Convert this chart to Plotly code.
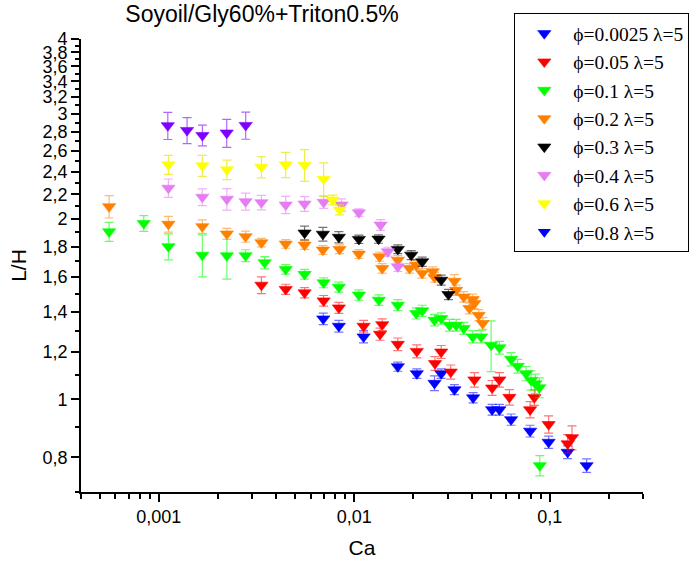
import plotly.graph_objects as go

# ---------------- data ----------------
names = ["ϕ=0.0025 λ=5", "ϕ=0.05 λ=5", "ϕ=0.1 λ=5", "ϕ=0.2 λ=5",
         "ϕ=0.3 λ=5", "ϕ=0.4 λ=5", "ϕ=0.6 λ=5", "ϕ=0.8 λ=5"]

ca_0025 = [0.00694, 0.00834, 0.01116, 0.0167, 0.02089, 0.02784, 0.02573, 0.03254,
           0.04056, 0.05073, 0.05527, 0.06344, 0.07933, 0.09872, 0.1235, 0.1544]
lh_0025 = [1.363, 1.325, 1.272, 1.134, 1.104, 1.104, 1.064, 1.038,
           1.006, 0.961, 0.961, 0.925, 0.885, 0.848, 0.816, 0.775]
er_0025 = [0.03, 0.03, 0.03, 0.02, 0.02, 0.02, 0.03, 0.02,
           0.02, 0.02, 0.02, 0.02, 0.02, 0.02, 0.02, 0.02]

ca_005 = [0.00335, 0.00446, 0.00557, 0.00697, 0.00834, 0.01116, 0.0139, 0.01355,
          0.0167, 0.02089, 0.02784, 0.02588, 0.03116, 0.04118, 0.05073, 0.05527,
          0.06217, 0.08343, 0.07933, 0.09872, 0.130, 0.1235]
lh_005 = [1.552, 1.527, 1.507, 1.461, 1.422, 1.325, 1.333, 1.285,
          1.236, 1.203, 1.200, 1.148, 1.111, 1.078, 1.045, 1.078,
          1.008, 1.007, 0.961, 0.908, 0.863, 0.843]
er_005 = [0.05, 0.03, 0.03, 0.03, 0.03, 0.03, 0.03, 0.03,
          0.03, 0.03, 0.03, 0.03, 0.03, 0.03, 0.03, 0.03,
          0.03, 0.03, 0.03, 0.03, 0.04, 0.03]

ca_01 = [0.000557, 0.000838, 0.00112, 0.00167, 0.00223, 0.00278, 0.00348, 0.00446,
         0.00557, 0.00697, 0.00834, 0.01056, 0.01336, 0.0167, 0.02074, 0.02226,
         0.02573, 0.02784, 0.03069, 0.0332, 0.03631, 0.04037, 0.04457, 0.05012,
         0.05527, 0.06344, 0.06855, 0.07566, 0.08027, 0.08443, 0.0885, 0.089]
lh_01 = [1.906, 1.968, 1.800, 1.742, 1.738, 1.738, 1.692, 1.649,
         1.618, 1.566, 1.540, 1.494, 1.465, 1.437, 1.392, 1.406,
         1.356, 1.365, 1.330, 1.330, 1.314, 1.272, 1.272, 1.232,
         1.220, 1.167, 1.136, 1.104, 1.076, 1.062, 1.046, 0.775]
er_01 = [0.07, 0.06, 0.09, 0.14, 0.15, 0.04, 0.04, 0.03,
         0.03, 0.03, 0.03, 0.03, 0.03, 0.03, 0.03, 0.03,
         0.03, 0.03, 0.03, 0.03, 0.03, 0.03, 0.03, 0.12,
         0.03, 0.03, 0.03, 0.03, 0.04, 0.04, 0.04, 0.03]

ca_02 = [0.000557, 0.00112, 0.00167, 0.00223, 0.00278, 0.00335, 0.00446, 0.00557,
         0.00691, 0.00841, 0.01056, 0.01347, 0.0139, 0.0167, 0.01917, 0.02074,
         0.02226, 0.02521, 0.02573, 0.03254, 0.0332, 0.03631, 0.04037, 0.04118,
         0.03883, 0.04331, 0.04541]
lh_02 = [2.099, 1.962, 1.944, 1.890, 1.870, 1.827, 1.818, 1.811,
         1.777, 1.781, 1.749, 1.731, 1.655, 1.709, 1.655, 1.677,
         1.624, 1.634, 1.599, 1.576, 1.522, 1.483, 1.469, 1.446,
         1.419, 1.382, 1.339]
er_02 = [0.09, 0.06, 0.05, 0.04, 0.04, 0.03, 0.03, 0.03,
         0.03, 0.03, 0.03, 0.03, 0.03, 0.03, 0.03, 0.03,
         0.03, 0.03, 0.03, 0.04, 0.03, 0.03, 0.03, 0.03,
         0.03, 0.03, 0.03]

ca_03 = [0.00557, 0.00691, 0.00834, 0.01056, 0.01331, 0.0167, 0.01956, 0.02226,
         0.02784, 0.03033]
lh_03 = [1.897, 1.888, 1.866, 1.851, 1.853, 1.781, 1.742, 1.698,
         1.582, 1.497]
er_03 = [0.05, 0.05, 0.04, 0.03, 0.03, 0.03, 0.03, 0.03,
         0.03, 0.03]

ca_04 = [0.00112, 0.00167, 0.00223, 0.00278, 0.00335, 0.00446, 0.00557, 0.00697,
         0.00861, 0.01056, 0.01363, 0.01485, 0.0167]
lh_04 = [2.254, 2.177, 2.160, 2.140, 2.132, 2.113, 2.121, 2.135,
         2.113, 2.051, 1.956, 1.765, 1.666]
er_04 = [0.08, 0.07, 0.09, 0.07, 0.06, 0.07, 0.06, 0.05,
         0.05, 0.03, 0.04, 0.03, 0.03]

ca_06 = [0.00112, 0.00167, 0.00223, 0.00335, 0.00446, 0.00557, 0.00697, 0.00775,
         0.00841]
lh_06 = [2.466, 2.457, 2.419, 2.444, 2.466, 2.463, 2.333, 2.154,
         2.073]
er_06 = [0.09, 0.10, 0.09, 0.10, 0.12, 0.15, 0.15, 0.04,
         0.04]

ca_08 = [0.001112, 0.001395, 0.001672, 0.002226, 0.002784]
lh_08 = [2.867, 2.815, 2.761, 2.787, 2.870]
er_08 = [0.15, 0.14, 0.11, 0.15, 0.15]

colors = ["#0000FF", "#FF0000", "#00FF00", "#FF8000",
          "#000000", "#E57CF2", "#FFFF00", "#8000FF"]
err_colors = ["rgba(0,0,255,0.55)", "rgba(255,0,0,0.55)", "rgba(0,255,0,0.6)",
              "rgba(255,128,0,0.55)", "rgba(0,0,0,0.55)", "rgba(229,124,242,0.6)",
              "rgba(230,230,0,0.7)", "rgba(128,0,255,0.6)"]
legend_marker_08 = "#0000FF"

xtick_vals = [0.001, 0.01, 0.1]
xtick_text = ["0,001", "0,01", "0,1"]
xminor_vals = [0.0004, 0.0005, 0.0006, 0.0007, 0.0008, 0.0009,
               0.002, 0.003, 0.004, 0.005, 0.006, 0.007, 0.008, 0.009,
               0.02, 0.03, 0.04, 0.05, 0.06, 0.07, 0.08, 0.09, 0.2, 0.3]
ytick_vals = [0.8, 1.0, 1.2, 1.4, 1.6, 1.8, 2.0, 2.2, 2.4, 2.6, 2.8,
              3.0, 3.2, 3.4, 3.6, 3.8, 4.0]
ytick_text = ["0,8", "1", "1,2", "1,4", "1,6", "1,8", "2", "2,2", "2,4",
              "2,6", "2,8", "3", "3,2", "3,4", "3,6", "3,8", "4"]
yminor_vals = [0.7, 0.9, 1.1, 1.3, 1.5, 1.7, 1.9, 2.1, 2.3, 2.5, 2.7, 2.9,
               3.1, 3.3, 3.5, 3.7, 3.9]

series = [(ca_0025, lh_0025, er_0025), (ca_005, lh_005, er_005),
          (ca_01, lh_01, er_01), (ca_02, lh_02, er_02),
          (ca_03, lh_03, er_03), (ca_04, lh_04, er_04),
          (ca_06, lh_06, er_06), (ca_08, lh_08, er_08)]

# ---------------- figure ----------------
fig = go.Figure()
for i, (xs, ys, es) in enumerate(series):
    last = (i == len(series) - 1)
    fig.add_trace(go.Scatter(
        x=xs, y=ys, mode="markers", name=names[i],
        showlegend=not last, legendgroup="g%d" % i,
        marker=dict(symbol="triangle-down", size=11.5, color=colors[i],
                    line=dict(width=0.6, color=colors[i])),
        error_y=dict(type="data", array=es, visible=True,
                     color=err_colors[i], thickness=1.2, width=4.5),
    ))
# legend entry of the last series (drawn in blue in the original legend)
fig.add_trace(go.Scatter(
    x=[None], y=[None], mode="markers", name=names[-1], legendgroup="g7",
    marker=dict(symbol="triangle-down", size=11.5, color=legend_marker_08),
))

L, R, T, B = 81, 47, 39, 73
W, H = 690, 565
pw, ph = W - L - R, H - T - B

axis_common = dict(
    showline=True, linecolor="black", linewidth=1.7, mirror=False,
    ticks="outside", ticklen=8, tickwidth=1.5, tickcolor="black",
    showgrid=False, zeroline=False,
    tickfont=dict(family="Liberation Sans, Arial", size=18, color="black"),
)

fig.update_xaxes(
    type="log", range=[-3.39794, -0.52288],
    tickmode="array", tickvals=xtick_vals, ticktext=xtick_text,
    minor=dict(tickmode="array", tickvals=xminor_vals, ticks="outside",
               ticklen=5, tickwidth=1.5, tickcolor="black", showgrid=False),
    title=dict(text="Ca", font=dict(family="Liberation Sans, Arial", size=21, color="black"),
               standoff=14),
    **axis_common,
)
fig.update_yaxes(
    type="log", range=[-0.15490, 0.60206],
    tickmode="array", tickvals=ytick_vals, ticktext=ytick_text,
    minor=dict(tickmode="array", tickvals=yminor_vals, ticks="outside",
               ticklen=4, tickwidth=1.5, tickcolor="black", showgrid=False),
    title=dict(text="L/H", font=dict(family="Liberation Sans, Arial", size=21, color="black"),
               standoff=10),
    **axis_common,
)

fig.update_layout(
    width=W, height=H,
    margin=dict(l=L, r=R, t=T, b=B, autoexpand=False),
    paper_bgcolor="white", plot_bgcolor="white",
    font=dict(family="Liberation Sans, Arial", color="black"),
    title=dict(text="Soyoil/Gly60%+Triton0.5%", x=262 / W, xanchor="center",
               xref="container", y=1 - 14 / H, yanchor="middle", yref="container",
               font=dict(family="Liberation Sans, Arial", size=23, color="black")),
    legend=dict(
        x=(514.3 - L) / pw, xanchor="left",
        y=1 + (T - 13.3) / ph, yanchor="top",
        bgcolor="white", bordercolor="black", borderwidth=1,
        font=dict(family="Liberation Serif, Times New Roman", size=19.5, color="black"),
        tracegroupgap=0, itemwidth=48,
    ),
    showlegend=True,
)

fig.write_html("out.html")
